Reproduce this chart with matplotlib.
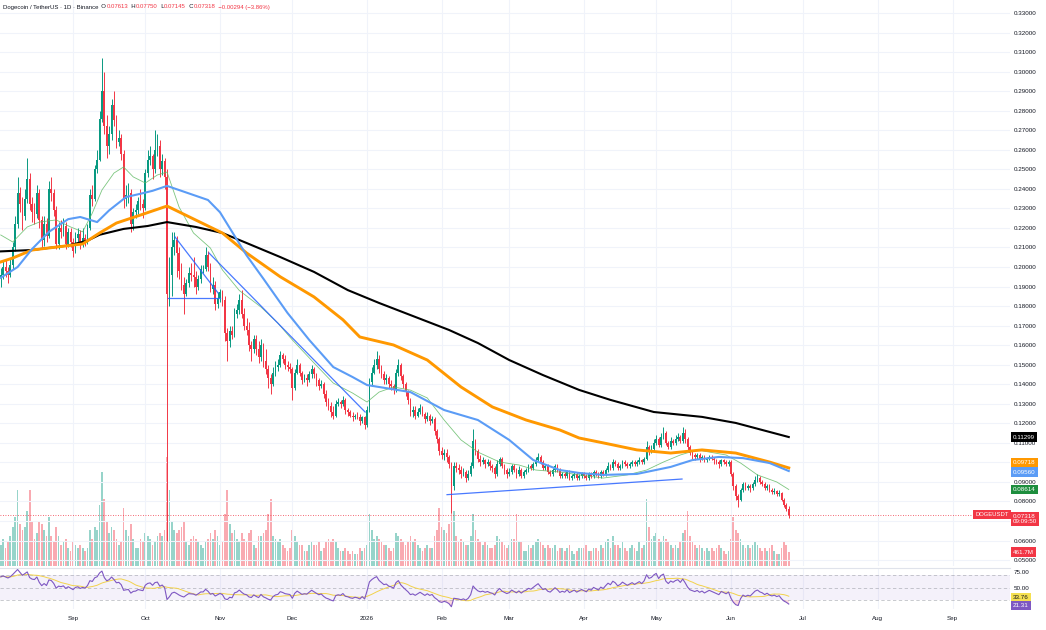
import numpy as np
import pandas as pd
import matplotlib
matplotlib.use("Agg")
import matplotlib.pyplot as plt
import matplotlib.dates as mdates

plt.rcParams['font.family'] = ['Liberation Sans', 'DejaVu Sans']

# ------------------------------------------------------------------ data
START_DATE = "2025-08-02"
PRICE_UNIT = 1e-4          # prices below are written in 1/10000 USDT
FIRST_OPEN = 1950

close_aug = [1960, 2000, 1980, 1960, 2010, 2100, 2220, 2380, 2320, 2260, 2350, 2450, 2320, 2280, 2270,
             2380, 2240, 2140, 2220, 2160, 2400, 2380, 2290, 2120, 2200, 2180, 2210, 2120, 2180, 2130]
high_aug = [1995, 2030, 2040, 2000, 2040, 2130, 2260, 2460, 2410, 2360, 2400, 2560, 2480, 2360, 2330,
            2420, 2400, 2260, 2260, 2250, 2440, 2460, 2400, 2310, 2230, 2240, 2250, 2230, 2200, 2200]
low_aug = [1900, 1940, 1950, 1920, 1950, 1990, 2080, 2200, 2280, 2190, 2240, 2330, 2290, 2230, 2220,
           2250, 2200, 2100, 2110, 2130, 2150, 2340, 2260, 2090, 2090, 2150, 2160, 2090, 2100, 2100]

close_sep = [2080, 2150, 2170, 2120, 2150, 2130, 2200, 2370, 2350, 2500, 2550, 2760, 2900, 2720, 2620,
             2680, 2830, 2750, 2640, 2660, 2580, 2350, 2370, 2380, 2220, 2280, 2290, 2340, 2320, 2300]
high_sep = [2150, 2180, 2200, 2190, 2200, 2170, 2220, 2400, 2420, 2520, 2600, 2800, 3070, 3000, 2780,
            2720, 2860, 2900, 2780, 2700, 2680, 2600, 2420, 2430, 2400, 2300, 2320, 2360, 2400, 2350]
low_sep = [2050, 2070, 2120, 2090, 2100, 2110, 2120, 2190, 2310, 2340, 2480, 2540, 2740, 2680, 2560,
           2580, 2650, 2720, 2610, 2620, 2550, 2300, 2310, 2330, 2180, 2190, 2250, 2270, 2290, 2250]

close_oct = [2480, 2550, 2570, 2500, 2600, 2620, 2500, 2540, 2460, 1860, 1960, 2100, 2140, 2070, 1980, 1910,
             1860, 1920, 1970, 1960, 1950, 1900, 1940, 1990, 1990, 2060, 2000, 1890, 1910, 1810, 1840]
high_oct = [2500, 2600, 2620, 2580, 2700, 2680, 2650, 2580, 2560, 2500, 2050, 2180, 2180, 2160, 2100, 2020,
            1950, 1940, 2000, 2020, 2050, 1980, 1960, 2010, 2010, 2100, 2080, 2020, 1950, 1930, 1870]
low_oct = [2290, 2460, 2520, 2450, 2480, 2570, 2460, 2470, 2400, 600, 1800, 1850, 2060, 1950, 1940, 1880,
           1760, 1850, 1900, 1930, 1900, 1860, 1880, 1920, 1970, 1980, 1980, 1870, 1860, 1780, 1790]

close_nov = [1870, 1830, 1660, 1620, 1670, 1650, 1760, 1780, 1830, 1760, 1700, 1680, 1600, 1580, 1630,
             1580, 1540, 1600, 1520, 1480, 1430, 1400, 1460, 1490, 1500, 1550, 1530, 1500, 1490, 1480]
high_nov = [1890, 1880, 1850, 1690, 1700, 1700, 1790, 1810, 1860, 1880, 1790, 1740, 1720, 1620, 1650,
            1650, 1620, 1630, 1610, 1580, 1500, 1450, 1490, 1520, 1530, 1570, 1560, 1550, 1520, 1510]
low_nov = [1820, 1800, 1620, 1520, 1590, 1630, 1640, 1740, 1760, 1740, 1680, 1650, 1570, 1520, 1560,
           1550, 1510, 1520, 1490, 1450, 1380, 1350, 1390, 1440, 1470, 1490, 1510, 1480, 1470, 1460]

close_dec = [1380, 1460, 1500, 1460, 1420, 1430, 1420, 1450, 1480, 1450, 1420, 1390, 1400, 1350, 1310, 1290,
             1260, 1240, 1300, 1310, 1300, 1320, 1270, 1260, 1240, 1230, 1240, 1230, 1210, 1230, 1190]
high_dec = [1490, 1480, 1530, 1510, 1470, 1450, 1450, 1470, 1500, 1490, 1460, 1430, 1420, 1410, 1370, 1330,
            1310, 1290, 1320, 1330, 1320, 1340, 1330, 1280, 1270, 1260, 1250, 1260, 1250, 1240, 1240]
low_dec = [1320, 1370, 1450, 1440, 1400, 1410, 1390, 1410, 1430, 1430, 1390, 1370, 1380, 1330, 1290, 1270,
           1230, 1220, 1230, 1290, 1280, 1290, 1250, 1240, 1230, 1210, 1220, 1220, 1190, 1200, 1170]

close_jan = [1270, 1410, 1460, 1500, 1530, 1480, 1450, 1420, 1430, 1400, 1390, 1370, 1460, 1500, 1440, 1400,
             1360, 1320, 1260, 1270, 1240, 1260, 1280, 1250, 1220, 1240, 1210, 1220, 1160, 1120, 1060]
high_jan = [1290, 1430, 1490, 1530, 1570, 1550, 1500, 1470, 1450, 1440, 1420, 1400, 1480, 1530, 1510, 1450,
            1410, 1370, 1330, 1290, 1290, 1280, 1300, 1290, 1260, 1260, 1250, 1240, 1230, 1170, 1130]
low_jan = [1180, 1260, 1390, 1450, 1480, 1460, 1430, 1400, 1400, 1380, 1370, 1350, 1360, 1440, 1420, 1380,
           1340, 1300, 1240, 1230, 1220, 1230, 1250, 1240, 1200, 1210, 1190, 1200, 1140, 1100, 1040]

close_feb = [1040, 1050, 1030, 990, 880, 980, 970, 960, 940, 950, 920, 940, 980, 1110,
             1060, 1020, 1000, 1010, 990, 1000, 980, 970, 940, 990, 1020, 980, 960, 940]
high_feb = [1080, 1070, 1070, 1040, 1000, 1000, 1000, 990, 980, 970, 960, 960, 1000, 1170,
            1120, 1070, 1040, 1030, 1020, 1020, 1010, 990, 980, 1010, 1030, 1030, 990, 970]
low_feb = [1020, 1010, 1000, 970, 740, 860, 950, 940, 920, 930, 900, 910, 930, 970,
           1040, 1000, 980, 990, 970, 980, 960, 950, 920, 930, 980, 970, 940, 920]

close_mar = [950, 980, 960, 940, 960, 930, 950, 960, 980, 970, 990, 1010, 1030, 1000, 970, 980,
             950, 940, 960, 980, 960, 930, 940, 930, 950, 920, 930, 940, 920, 930, 940]
high_mar = [970, 990, 990, 970, 980, 970, 960, 970, 990, 990, 1000, 1030, 1050, 1040, 1010, 990,
            990, 960, 970, 990, 990, 970, 950, 950, 960, 960, 940, 950, 950, 940, 950]
low_mar = [930, 940, 950, 920, 930, 920, 920, 940, 950, 960, 960, 980, 1000, 990, 960, 960,
           940, 930, 930, 950, 950, 920, 920, 920, 920, 910, 910, 920, 910, 910, 920]

close_apr = [930, 920, 940, 930, 950, 940, 930, 950, 940, 960, 980, 970, 1000, 990, 970,
             980, 1000, 990, 980, 990, 1000, 990, 1000, 1010, 1000, 1020, 1080, 1060, 1070, 1100]
high_apr = [950, 940, 950, 950, 960, 960, 950, 960, 960, 970, 1000, 990, 1020, 1010, 1000,
            990, 1010, 1010, 1000, 1000, 1010, 1010, 1010, 1030, 1020, 1030, 1110, 1090, 1090, 1120]
low_apr = [920, 910, 910, 920, 920, 930, 920, 920, 930, 930, 950, 960, 960, 980, 960,
           960, 970, 980, 970, 970, 980, 980, 980, 990, 990, 990, 1010, 1040, 1050, 1060]

close_may = [1120, 1090, 1130, 1150, 1100, 1080, 1110, 1100, 1120, 1130, 1110, 1150, 1120, 1080, 1050, 1040,
             1030, 1040, 1020, 1030, 1010, 1020, 1030, 1020, 1010, 1000, 990, 1010, 1000, 990, 1000]
high_may = [1140, 1130, 1150, 1180, 1160, 1110, 1130, 1120, 1140, 1150, 1140, 1180, 1170, 1130, 1090, 1060,
            1050, 1050, 1050, 1040, 1040, 1030, 1040, 1040, 1030, 1020, 1010, 1020, 1020, 1010, 1010]
low_may = [1090, 1080, 1080, 1120, 1090, 1070, 1070, 1090, 1090, 1110, 1100, 1100, 1100, 1060, 1040, 1020,
           1010, 1020, 1000, 1010, 1000, 1000, 1010, 1010, 990, 990, 970, 980, 990, 980, 980]

close_jun = [940, 880, 830, 810, 860, 890, 870, 880, 870, 890, 910, 920, 900, 890, 870,
             880, 860, 850, 855, 840, 845, 810, 780, 761.3, 731.8]
high_jun = [1010, 950, 890, 840, 870, 900, 900, 890, 890, 900, 930, 940, 930, 910, 900,
            890, 890, 870, 870, 860, 860, 850, 820, 790, 775]
low_jun = [930, 860, 810, 770, 800, 850, 860, 860, 850, 860, 880, 900, 890, 880, 860,
           860, 850, 840, 840, 830, 830, 800, 770, 750, 714.5]

# daily volume, millions of DOGE
vol_aug = [700, 900, 600, 800, 1000, 1300, 1600, 2500, 1400, 1200, 1300, 1800, 2500, 1500, 900,
           1100, 1500, 1400, 1200, 1000, 1600, 1000, 800, 1300, 1000, 700, 800, 900, 600, 500]
vol_sep = [800, 700, 600, 700, 600, 500, 600, 1200, 900, 1300, 1200, 2000, 3100, 2200, 1500,
           1100, 1300, 1200, 900, 700, 800, 1900, 1200, 1000, 1400, 900, 600, 600, 900, 800]
vol_oct = [1100, 1000, 900, 700, 800, 1000, 1100, 1000, 1200, 3600, 2500, 1500, 1200, 1100, 1200, 1300,
           1500, 800, 700, 900, 1000, 900, 800, 700, 600, 800, 900, 1100, 900, 1200, 1000]
vol_nov = [700, 800, 1700, 2500, 1400, 1100, 1200, 900, 800, 1100, 900, 800, 1100, 1200, 700,
           600, 1000, 1000, 1100, 1200, 1700, 2200, 1000, 900, 800, 900, 700, 600, 500, 600]
vol_dec = [1200, 1000, 800, 700, 700, 500, 500, 700, 800, 700, 700, 800, 500, 600, 800, 900,
           800, 900, 800, 600, 500, 500, 600, 500, 400, 500, 400, 400, 600, 500, 600]
vol_jan = [700, 1700, 1200, 900, 1000, 900, 800, 700, 700, 600, 500, 600, 1100, 1000, 900, 800,
           700, 800, 1000, 800, 900, 700, 600, 500, 600, 700, 600, 600, 1000, 1200, 1900]
vol_feb = [1300, 1200, 1100, 1400, 2400, 1800, 1000, 800, 900, 800, 700, 700, 1000, 1700,
           1200, 900, 800, 700, 800, 700, 600, 600, 700, 1000, 900, 800, 700, 600]
vol_mar = [700, 900, 900, 1700, 800, 800, 500, 500, 700, 600, 700, 800, 900, 800, 700, 600,
           700, 600, 600, 700, 500, 600, 600, 500, 600, 700, 500, 400, 500, 600, 600]
vol_apr = [600, 700, 500, 500, 600, 600, 500, 700, 600, 800, 900, 600, 1000, 700, 700,
           600, 800, 600, 500, 600, 700, 600, 500, 800, 600, 700, 2200, 1300, 900, 1000]
vol_may = [1100, 900, 800, 1000, 900, 800, 700, 600, 700, 600, 800, 1100, 1200, 1800, 1000, 800,
           700, 600, 700, 600, 500, 600, 500, 600, 500, 600, 700, 600, 500, 400, 500]
vol_jun = [900, 1600, 1200, 1100, 900, 700, 600, 700, 600, 700, 800, 700, 600, 500, 600,
           500, 600, 700, 500, 400, 400, 600, 800, 700, 461.7]

# moving averages (day offset from START_DATE, price)
ma200_day = [0, 13, 28, 36, 41, 51, 61, 69, 81, 92, 102, 116, 130, 144, 157, 186, 198, 211, 225, 240,
             253, 271, 291, 305, 327]
ma200_val = [0.2080, 0.2087, 0.2110, 0.2135, 0.2165, 0.2195, 0.2210, 0.2230, 0.2205, 0.2174, 0.2123,
             0.2051, 0.1975, 0.1882, 0.1816, 0.1678, 0.1611, 0.1524, 0.1447, 0.1371, 0.1320, 0.1258,
             0.1233, 0.1202, 0.11299]
ma100_day = [0, 5, 13, 23, 34, 41, 48, 58, 69, 81, 92, 102, 116, 130, 142, 149, 163, 177, 191, 204,
             218, 232, 240, 250, 264, 278, 291, 305, 319, 327]
ma100_val = [0.2026, 0.2046, 0.2087, 0.2102, 0.2118, 0.2174, 0.2225, 0.2266, 0.2312, 0.2240, 0.2174,
             0.2072, 0.1950, 0.1847, 0.1730, 0.1642, 0.1601, 0.1524, 0.1386, 0.1284, 0.1217, 0.1166,
             0.1125, 0.1100, 0.1064, 0.1048, 0.1064, 0.1048, 0.1002, 0.09718]
ma50_day = [0, 7, 13, 20, 28, 33, 40, 45, 52, 58, 63, 69, 74, 86, 91, 96, 102, 109, 119, 128,
            138, 146, 152, 157, 170, 184, 198, 211, 221, 232, 240, 250, 264, 278, 287, 298, 308, 319, 327]
ma50_val = [0.1945, 0.2000, 0.2092, 0.2180, 0.2245, 0.2256, 0.2230, 0.2290, 0.2358, 0.2375, 0.2390,
            0.2415, 0.2394, 0.2343, 0.2280, 0.2180, 0.2060, 0.1940, 0.1765, 0.1627, 0.1488, 0.1437,
            0.1396, 0.1386, 0.1360, 0.1268, 0.1217, 0.1115, 0.1012, 0.0961, 0.0946, 0.0936, 0.0941,
            0.0977, 0.1012, 0.1028, 0.1022, 0.0997, 0.09560]
ma20_day = [0, 5, 11, 16, 23, 29, 34, 38, 42, 47, 51, 55, 60, 65, 69, 74, 80, 87, 92, 99,
            108, 115, 121, 130, 138, 146, 152, 157, 163, 170, 177, 184, 191, 198, 207, 215, 222, 232, 240, 250,
            260, 268, 275, 282, 289, 294, 301, 307, 314, 322, 327]
ma20_val = [0.2164, 0.2128, 0.2205, 0.2230, 0.2241, 0.2205, 0.2180, 0.2276, 0.2394, 0.2481,
            0.2512, 0.2461, 0.2430, 0.2471, 0.2486, 0.2307, 0.2174, 0.2097, 0.1985, 0.1880,
            0.1795, 0.1713, 0.1627, 0.1509, 0.1406, 0.1355, 0.1309, 0.1360, 0.1386, 0.1370,
            0.1330, 0.1217, 0.1115, 0.1053, 0.1002, 0.0987, 0.0961, 0.0951, 0.0936, 0.0920,
            0.0936, 0.0961, 0.1002, 0.1038, 0.1064, 0.1053, 0.1038, 0.0997, 0.0936, 0.0900, 0.08614]

# hand-drawn trend lines (day offset, price)
tl_flat_day, tl_flat_val = [69.4, 91.0], [0.1842, 0.1842]
tl_down1_day, tl_down1_val = [72.3, 90.2], [0.2154, 0.1867]
tl_down2_day, tl_down2_val = [86.4, 151.2], [0.2072, 0.1258]
tl_up_day, tl_up_val = [185.2, 282.7], [0.0835, 0.0915]

RSI_LAST, RSI_MA_LAST = 21.31, 33.76
COUNTDOWN = "09:09:50"
SYMBOL_TAG = "DOGEUSDT"
HEADER = [("Dogecoin / TetherUS · 1D · Binance", 'dark'), ("  O", 'dark'), ("0.07613", 'red'),
          ("  H", 'dark'), ("0.07750", 'red'), ("  L", 'dark'), ("0.07145", 'red'),
          ("  C", 'dark'), ("0.07318", 'red'), ("  −0.00294 (−3.86%)", 'red')]
MONTH_TICKS = ["2025-09-01", "2025-10-01", "2025-11-01", "2025-12-01", "2026-01-01", "2026-02-01",
               "2026-03-01", "2026-04-01", "2026-05-01", "2026-06-01", "2026-07-01", "2026-08-01", "2026-09-01"]
MONTH_LABELS = ["Sep", "Oct", "Nov", "Dec", "2026", "Feb", "Mar", "Apr", "May", "Jun", "Jul", "Aug", "Sep"]
PRICE_TICKS = [round(0.05 + 0.01 * k, 2) for k in range(29)]
HIDDEN_PRICE_TICKS = [0.07, 0.10]
RSI_TICKS = [75, 50]

# ------------------------------------------------------------------ assemble
close = np.array(close_aug + close_sep + close_oct + close_nov + close_dec + close_jan + close_feb +
                 close_mar + close_apr + close_may + close_jun) * PRICE_UNIT
high = np.array(high_aug + high_sep + high_oct + high_nov + high_dec + high_jan + high_feb +
                high_mar + high_apr + high_may + high_jun) * PRICE_UNIT
low = np.array(low_aug + low_sep + low_oct + low_nov + low_dec + low_jan + low_feb +
               low_mar + low_apr + low_may + low_jun) * PRICE_UNIT
volume = np.array(vol_aug + vol_sep + vol_oct + vol_nov + vol_dec + vol_jan + vol_feb +
                  vol_mar + vol_apr + vol_may + vol_jun)
opn = np.r_[FIRST_OPEN * PRICE_UNIT, close[:-1]]

dates = pd.date_range(START_DATE, periods=len(close), freq='D')
x = mdates.date2num(dates)
x0 = x[0]
n = len(close)

GREEN, RED, DARK = '#089981', '#f23645', '#131722'
GRID = '#f0f3fa'
up = close >= opn
col = np.where(up, GREEN, RED)

# RSI(14), Wilder smoothing seeded with the mean of the first 14 moves, plus its 14-period SMA
delta = np.diff(close, prepend=opn[0])
gains = np.clip(delta, 0, None)
losses = np.clip(-delta, 0, None)
avg_g, avg_l = gains[:14].mean(), losses[:14].mean()
rsi = np.empty(n)
for k in range(n):
    avg_g = (avg_g * 13 + gains[k]) / 14
    avg_l = (avg_l * 13 + losses[k]) / 14
    rsi[k] = 100 - 100 / (1 + avg_g / avg_l)
rsi_ma = pd.Series(rsi).rolling(14, min_periods=1).mean().to_numpy()

# ------------------------------------------------------------------ figure
W, H = 1046, 630
fig = plt.figure(figsize=(W / 100, H / 100), dpi=100)
fig.patch.set_facecolor('white')


def rect(xa, ya, xb, yb):
    return [xa / W, 1 - yb / H, (xb - xa) / W, (yb - ya) / H]


PLOT_R = 1010
vax = fig.add_axes(rect(0, 0, PLOT_R, 566), zorder=0)
ax = fig.add_axes(rect(0, 0, PLOT_R, 566), zorder=1)
rax = fig.add_axes(rect(0, 568, PLOT_R, 609), zorder=1)
ax.patch.set_alpha(0)

xlim = (x0 - 0.3, x0 + 418.8)
month_x = mdates.date2num(pd.to_datetime(MONTH_TICKS))

# volume
vax.bar(x, volume, width=0.72, color=col, alpha=0.42, lw=0)
vax.set_xlim(*xlim)
vax.set_ylim(0, 18666)
vax.axis('off')

# price pane
ax.set_xlim(*xlim)
ax.set_ylim(0.04699, 0.33665)
ax.set_yticks(PRICE_TICKS)
ax.set_yticklabels(['' if t in HIDDEN_PRICE_TICKS else f"{t:.5f}" for t in PRICE_TICKS])
ax.yaxis.tick_right()
ax.set_xticks(month_x)
ax.tick_params(axis='y', length=0, pad=3, labelsize=4.5, labelcolor=DARK)
ax.tick_params(axis='x', length=0, labelbottom=False)
ax.grid(True, color=GRID, lw=0.8)
ax.set_axisbelow(True)
for s in ax.spines.values():
    s.set_visible(False)

ax.vlines(x, low, high, colors=col, lw=0.7, zorder=2)
body_lo = np.minimum(opn, close)
body_h = np.maximum(np.abs(close - opn), 0.0002)
ax.bar(x, body_h, bottom=body_lo, width=0.72, color=col, lw=0, zorder=3)

ax.plot(x0 + np.array(ma20_day), ma20_val, color='#5cb860', lw=0.6, alpha=0.8, zorder=4)
ax.plot(x0 + np.array(ma200_day), ma200_val, color='#000000', lw=1.5, zorder=4)
ax.plot(x0 + np.array(ma100_day), ma100_val, color='#ff9800', lw=2.1, zorder=4)
ax.plot(x0 + np.array(ma50_day), ma50_val, color='#5b9cf6', lw=1.5, zorder=4)

for dd, vv in ((tl_flat_day, tl_flat_val), (tl_down1_day, tl_down1_val),
               (tl_down2_day, tl_down2_val), (tl_up_day, tl_up_val)):
    ax.plot(x0 + np.array(dd), vv, color='#2962ff', lw=0.9, alpha=0.85, zorder=5)

ax.axhline(close[-1], color=RED, lw=0.6, ls=(0, (1, 2)), zorder=1)


def side_label(axis, value, text, bg, fg='white', dy=0.0, dx=2.0, ha='left', fs=4.5):
    axis.annotate(text, xy=(1, value), xycoords=axis.get_yaxis_transform(),
                  xytext=(dx, dy), textcoords='offset points', ha=ha, va='center',
                  fontsize=fs, color=fg, linespacing=1.15,
                  bbox=dict(boxstyle='square,pad=0.35', fc=bg, ec='none'),
                  annotation_clip=False, zorder=10)


side_label(ax, ma200_val[-1], f"{ma200_val[-1]:.5f}", '#000000')
side_label(ax, ma100_val[-1], f"{ma100_val[-1]:.5f}", '#ff9800', dy=3.6)
side_label(ax, ma50_val[-1], f"{ma50_val[-1]:.5f}", '#5b9cf6', dy=-0.8)
side_label(ax, ma20_val[-1], f"{ma20_val[-1]:.5f}", '#1e8e3e')
side_label(ax, close[-1], f"{close[-1]:.5f}\n{COUNTDOWN}", RED, dy=-3)
side_label(ax, close[-1], SYMBOL_TAG, RED, dx=-1, ha='right', fs=4.2)
side_label(vax, volume[-1], f"{volume[-1]:.1f}M", RED)

# header
cmap = {'dark': DARK, 'red': RED}
t = ax.text(3 / PLOT_R, 1 - 7 / 566, HEADER[0][0], transform=ax.transAxes, fontsize=4.3,
            color=cmap[HEADER[0][1]], ha='left', va='center', zorder=10)
for txt, c in HEADER[1:]:
    t = ax.annotate(txt, xy=(1, 0), xycoords=t, xytext=(0, 0), textcoords='offset points',
                    ha='left', va='bottom', fontsize=4.3, color=cmap[c], zorder=10)

# RSI pane
rax.set_xlim(*xlim)
rax.set_ylim(15.6, 81.2)
rax.axhspan(30, 70, color='#7e57c2', alpha=0.08, lw=0)
for lvl in (70, 50, 30):
    rax.axhline(lvl, color='#9598a1', lw=0.6, ls=(0, (4, 3)), alpha=0.6)
rax.fill_between(x, rsi, 30, where=rsi < 30, color=RED, alpha=0.18, lw=0, interpolate=True)
rax.plot(x, rsi_ma, color='#f2d24b', lw=0.7)
rax.plot(x, rsi, color='#7e57c2', lw=0.8)
rax.set_yticks(RSI_TICKS)
rax.set_yticklabels([f"{v:.2f}" for v in RSI_TICKS])
rax.yaxis.tick_right()
rax.set_xticks(month_x)
rax.set_xticklabels(MONTH_LABELS)
rax.tick_params(axis='both', length=0, labelsize=4.5, labelcolor=DARK)
rax.tick_params(axis='x', pad=5)
rax.tick_params(axis='y', pad=3)
rax.grid(True, axis='x', color=GRID, lw=0.8)
rax.set_axisbelow(True)
for k, s in rax.spines.items():
    s.set_visible(False)
rax.spines['top'].set_visible(True)
rax.spines['top'].set_color('#e0e3eb')
rax.spines['top'].set_linewidth(0.8)
side_label(rax, RSI_MA_LAST, f"{RSI_MA_LAST:.2f}", '#f5e050', fg=DARK)
side_label(rax, RSI_LAST, f"{RSI_LAST:.2f}", '#7e57c2')

fig.savefig('out.png', dpi=100, facecolor='white')
